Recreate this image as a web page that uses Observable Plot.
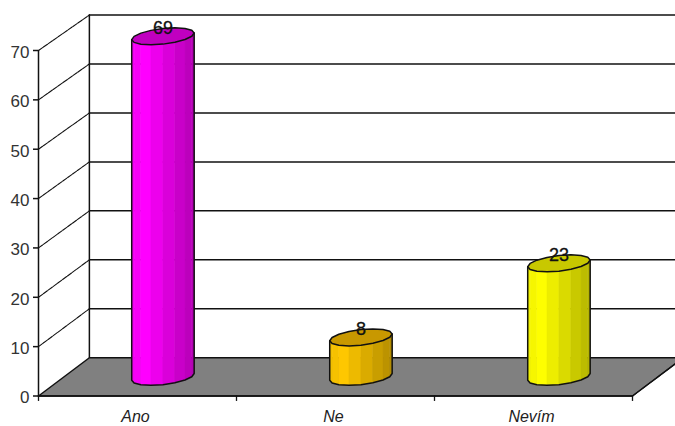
<!DOCTYPE html>
<html>
<head>
<meta charset="utf-8">
<script src="https://cdn.jsdelivr.net/npm/d3@7"></script>
<script src="https://cdn.jsdelivr.net/npm/@observablehq/plot@0.6"></script>
<style>
  html, body { margin: 0; padding: 0; background: #fff; }
  svg { display: block; }
</style>
</head>
<body>
<div id="chart"></div>
<script>
const categories = ["Ano", "Ne", "Nevím"];
const values = [69, 8, 23];
const baseColors = ["#ff00ff", "#ffc800", "#ffff00"];
const capColors = ["#c000c0", "#c89800", "#c8c800"];
const yTicks = [0, 10, 20, 30, 40, 50, 60, 70];
const xBoundaries = [0, 1, 2, 3];

// Oblique depth of the 3D box, in data units (categories, value units)
const depthX = 0.257;
const depthY = 7.75;
const backScale = 0.992;
const backY = (v) => depthY + v * backScale;

// Half-axes of the tilted cylinder section, in data units
const radA = 0.145;
const radBx = 0.062;
const radBy = 1.72;
const radX = Math.hypot(radA, radBx);
const tRight = Math.atan2(radBx, radA);
const arcSteps = 8;

const ringPoint = (cx, cy, t) => ({
  x: cx + radA * Math.cos(t) + radBx * Math.sin(t),
  y: cy + radBy * Math.sin(t)
});

// Centre of a category's cylinder, halfway into the box
const centerX = (i) => i + 0.5 + depthX / 2;
const baseY = depthY / 2;

// Lower arc of a ring, from its left extreme to its right extreme
const lowerArc = (cx, cy) =>
  d3.range(arcSteps + 1).map((k) => ringPoint(cx, cy, tRight + Math.PI + (k / arcSteps) * Math.PI));

// Closed ring outline
const ring = (cx, cy) =>
  d3.range(arcSteps * 2 + 1).map((k) => ringPoint(cx, cy, tRight + (k / (arcSteps * 2)) * 2 * Math.PI));

// Side shading: bright just left of centre, darkening toward the right edge
const shade = (base, f) => {
  const c = d3.rgb(base);
  const k = f < 0.22 ? 0.94 + (0.06 * f) / 0.22 : 1 - (0.3 * (f - 0.22)) / 0.78;
  return d3.rgb(c.r * k, c.g * k, c.b * k).formatRgb();
};

const line = (pts, o = {}) =>
  Plot.line(pts, { x: "x", y: "y", stroke: "#111", strokeWidth: 1.5, ...o });

// One cylinder: shaded side strips, outline, cap
function cylinderMarks(i) {
  const cx = centerX(i);
  const top = values[i] + baseY;
  const low = lowerArc(cx, baseY);
  const high = lowerArc(cx, top);
  const strips = d3.range(arcSteps).map((k) => {
    const f = ((low[k].x + low[k + 1].x) / 2 - (cx - radX)) / (2 * radX);
    const color = shade(baseColors[i], f);
    return line([low[k], low[k + 1], high[k + 1], high[k], low[k]], {
      fill: color, stroke: color, strokeWidth: 0.5
    });
  });
  const outline = [high[0], ...low, high[arcSteps]];
  return [
    ...strips,
    line(outline),
    line(ring(cx, top), { fill: capColors[i] })
  ];
}

const floor = [
  { x: 0, y: 0 }, { x: depthX, y: backY(0) },
  { x: 3 + depthX, y: backY(0) }, { x: 3, y: 0 }, { x: 0, y: 0 }
];

const chart = Plot.plot({
  width: 675,
  height: 426,
  marginLeft: 38,
  marginRight: 43,
  marginTop: 50,
  marginBottom: 30.5,
  style: { background: "#fff", fontFamily: "Liberation Sans, Arial, sans-serif", color: "#222" },
  x: { type: "linear", domain: [0, 3], axis: null, label: null },
  y: { type: "linear", domain: [0, 70], axis: null, label: null },
  marks: [
    // Back wall gridlines and left wall obliques
    Plot.ruleY(yTicks.slice(1), {
      y: backY, x1: () => depthX, x2: () => 3 + depthX, stroke: "#111", strokeWidth: 1.5
    }),
    ...yTicks.slice(1).map((v) =>
      line([{ x: 0, y: v }, { x: depthX, y: backY(v) }], { strokeWidth: 1.1, strokeDasharray: "5,1" })
    ),
    line([{ x: depthX, y: backY(0) }, { x: depthX, y: backY(70) }]),

    // Floor
    line(floor, { fill: "#808080" }),
    line([floor[3], floor[2]], { strokeWidth: 1.1, strokeDasharray: "5,1" }),

    // Axes
    line([{ x: 0, y: 0 }, { x: 0, y: 70 }]),
    line([{ x: 0, y: 0 }, { x: 3, y: 0 }]),
    Plot.axisY({
      ticks: yTicks, label: null, text: null, tickSize: 5, strokeWidth: 1.5, stroke: "#111"
    }),
    Plot.axisY({
      ticks: yTicks, label: null, tickSize: 0, tickPadding: 9, dy: 2, fontSize: 17, fill: "#333"
    }),
    Plot.ruleX(xBoundaries, { x: (d) => d, y1: () => 0, y2: () => -1.1, stroke: "#111", strokeWidth: 1.3 }),
    Plot.axisX({
      ticks: [0.5, 1.5, 2.5],
      label: null,
      tickFormat: (d) => categories[d - 0.5],
      tickSize: 0,
      tickPadding: 15,
      dx: -2,
      fontSize: 16,
      fontStyle: "italic",
      fill: "#222"
    }),

    // Cylinders
    ...categories.flatMap((_, i) => cylinderMarks(i)),

    // Value labels
    Plot.text(values, {
      x: (_, i) => centerX(i),
      y: (d) => d + baseY,
      text: (d) => `${d}`,
      dy: -8,
      fontSize: 18,
      fill: "#111",
      stroke: "#111",
      strokeWidth: 0.3
    })
  ]
});

document.getElementById("chart").appendChild(chart);
</script>
</body>
</html>
